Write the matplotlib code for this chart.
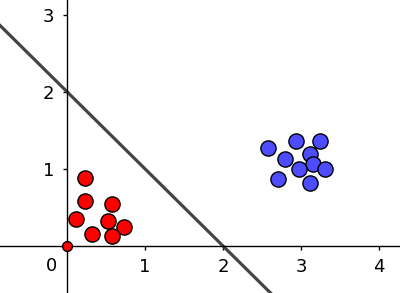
import matplotlib
matplotlib.use("Agg")
import matplotlib.pyplot as plt
import numpy as np

red_x = [0.23, 0.23, 0.58, 0.11, 0.53, 0.73, 0.32, 0.57]
red_y = [0.88, 0.58, 0.54, 0.35, 0.32, 0.24, 0.16, 0.13]
origin_pt = (0.0, 0.0)
blue_x = [2.58, 2.94, 3.24, 2.80, 3.12, 3.15, 2.97, 3.31, 2.71, 3.11]
blue_y = [1.27, 1.36, 1.36, 1.13, 1.19, 1.06, 1.00, 1.00, 0.87, 0.82]
line_x = [-1.0, 3.0]
line_y = [3.0, -1.0]
x_ticks = [1, 2, 3, 4]
y_ticks = [1, 2, 3]

fig = plt.figure(figsize=(4.0, 2.93), dpi=100)
ax = fig.add_axes([0, 0, 1, 1])
ax.set_xlim(-0.86, 4.27)
ax.set_ylim(-0.61, 3.19)

for s in ['top', 'right']:
    ax.spines[s].set_visible(False)
ax.spines['left'].set_position(('data', 0))
ax.spines['bottom'].set_position(('data', 0))
ax.spines['left'].set_linewidth(1.0)
ax.spines['bottom'].set_linewidth(1.0)

ax.set_xticks(x_ticks)
ax.set_yticks(y_ticks)
ax.tick_params(axis='both', direction='out', length=3, width=1.0, labelsize=13, pad=6)
ax.text(-0.2, -0.14, "0", fontsize=13, ha='center', va='top')

ax.plot(line_x, line_y, color='#444444', lw=2.3, zorder=2, solid_capstyle='butt')
ax.scatter(red_x, red_y, s=120, c='#ff0000', edgecolors='black', linewidths=1.0, zorder=3)
ax.scatter([origin_pt[0]], [origin_pt[1]], s=50, c='#ff0000', edgecolors='black', linewidths=1.0, zorder=3, clip_on=False)
ax.scatter(blue_x, blue_y, s=120, c='#4d4dff', edgecolors='black', linewidths=1.0, zorder=3)

fig.savefig("out.png", dpi=100)
